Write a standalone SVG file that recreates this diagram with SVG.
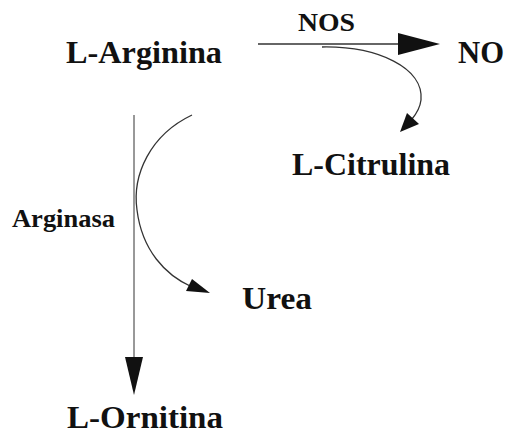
<svg xmlns="http://www.w3.org/2000/svg" width="509" height="434" viewBox="0 0 509 434">
  <style>
    .lbl { font-family: "Liberation Serif", "DejaVu Serif", "Times New Roman", serif; font-weight: 700; fill: #111; }
    .big { font-size: 32px; }
    .enz { font-size: 26px; }
    .ln { fill: none; stroke: #333; }
    .head { fill: #111; stroke: none; }
  </style>
  <rect width="509" height="434" fill="#fff"/>

  <g id="connectors">
    <!-- NOS: L-Arginina to NO -->
    <line class="ln" x1="258" y1="44" x2="400" y2="44" stroke-width="1.6"/>
    <polygon class="head" points="398,33 440,44 398,55"/>
    <!-- side product: L-Citrulina -->
    <path class="ln" d="M322,47 C378,46 424,68 421,100 C420,108 417,113 412,119" stroke-width="1.3"/>
    <polygon class="head" points="400,132 407,113 419,124"/>
    <!-- Arginasa: L-Arginina to L-Ornitina -->
    <line class="ln" x1="134" y1="115" x2="134" y2="362" stroke-width="1"/>
    <polygon class="head" points="125,357 143,357 134,395"/>
    <!-- side product: Urea -->
    <path class="ln" d="M192,115 C150,135 132,175 137,210 C142,250 165,275 192,287" stroke-width="1.3"/>
    <polygon class="head" points="210,293 186,291 192,279"/>
  </g>

  <g id="arginina"><text class="lbl big" x="66" y="63" textLength="156" lengthAdjust="spacingAndGlyphs">L-Arginina</text></g>
  <g id="no"><text class="lbl big" x="458" y="63" textLength="46" lengthAdjust="spacingAndGlyphs">NO</text></g>
  <g id="nos"><text class="lbl enz" x="298" y="31" textLength="57" lengthAdjust="spacingAndGlyphs">NOS</text></g>
  <g id="citrulina"><text class="lbl big" x="292" y="175" textLength="158" lengthAdjust="spacingAndGlyphs">L-Citrulina</text></g>
  <g id="arginasa"><text class="lbl enz" x="12" y="227" textLength="103" lengthAdjust="spacingAndGlyphs">Arginasa</text></g>
  <g id="urea"><text class="lbl big" x="242" y="309" textLength="70" lengthAdjust="spacingAndGlyphs">Urea</text></g>
  <g id="ornitina"><text class="lbl big" x="67" y="428" textLength="156" lengthAdjust="spacingAndGlyphs">L-Ornitina</text></g>
</svg>
